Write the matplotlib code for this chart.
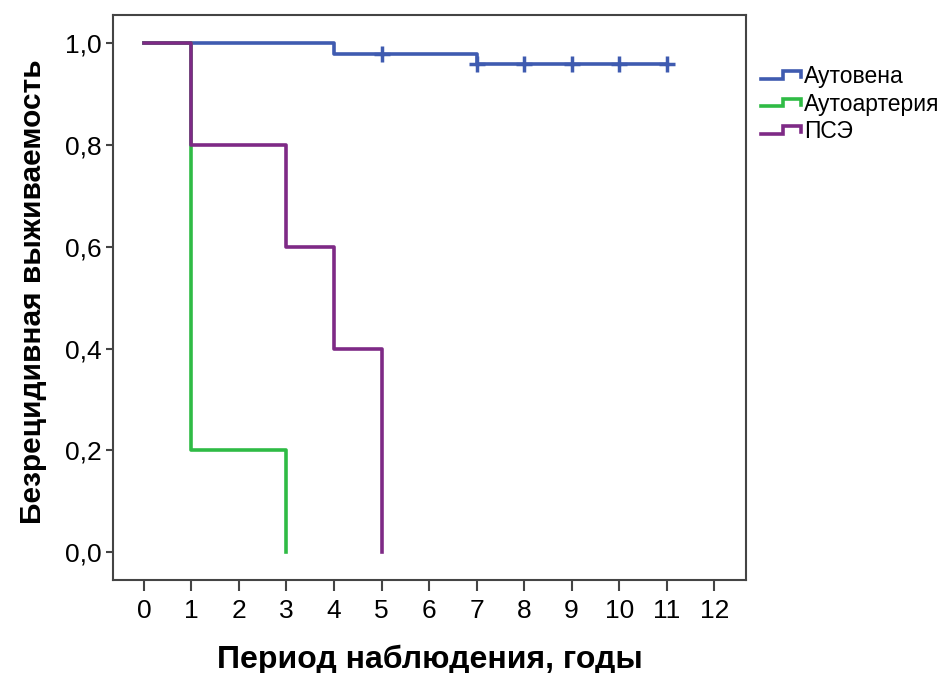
import matplotlib
matplotlib.use("Agg")
import matplotlib.pyplot as plt
from matplotlib.legend_handler import HandlerBase
from matplotlib.lines import Line2D

plt.rcParams['font.family'] = ['Liberation Sans', 'DejaVu Sans']

# Data
groups = ["Аутовена", "Аутоартерия", "ПСЭ"]
colors = ["#3f5bb0", "#2fbb45", "#7e2a86"]
vena_t = [0, 4, 7, 11]
vena_s = [1.0, 0.98, 0.96, 0.96]
arter_t = [0, 1, 3]
arter_s = [1.0, 0.2, 0.0]
pse_t = [0, 1, 3, 4, 5]
pse_s = [1.0, 0.8, 0.6, 0.4, 0.0]
vena_cens_t = [5, 7, 8, 9, 10, 11]
vena_cens_s = [0.98, 0.96, 0.96, 0.96, 0.96, 0.96]
xticks = list(range(0, 13))
yticks = [0.0, 0.2, 0.4, 0.6, 0.8, 1.0]

fig = plt.figure(figsize=(9.47, 6.73), dpi=100)
ax = fig.add_axes([0.1193, 0.1382, 0.7878 - 0.1193, 0.9777 - 0.1382])

lw = 2.6
ax.plot(vena_t, vena_s, drawstyle='steps-post', color=colors[0], lw=lw, zorder=2)
ax.plot(vena_cens_t, vena_cens_s, linestyle='none', marker='+', markersize=12,
        markeredgewidth=2.5, color=colors[0], zorder=2)
ax.plot(arter_t, arter_s, drawstyle='steps-post', color=colors[1], lw=lw, zorder=3)
ax.plot(pse_t, pse_s, drawstyle='steps-post', color=colors[2], lw=lw, zorder=4)

ax.set_xlim(-0.65, 12.67)
ax.set_ylim(-0.055, 1.056)
ax.set_xticks(xticks)
ax.set_xticklabels([str(x) for x in xticks])
ax.set_yticks(yticks)
ax.set_yticklabels([f"{y:.1f}".replace('.', ',') for y in yticks])
ax.tick_params(axis='x', length=8, width=1.5, labelsize=19, pad=6, color='#444444')
ax.tick_params(axis='y', length=5, width=1.5, labelsize=19, pad=3, color='#444444')
for s in ax.spines.values():
    s.set_linewidth(1.5)
    s.set_color('#444444')

ax.set_xlabel("Период наблюдения, годы", fontsize=23, fontweight='bold', labelpad=15)
ax.set_ylabel("Безрецидивная выживаемость", fontsize=21.5, fontweight='bold', labelpad=13)
ax.yaxis.label.set_y(0.51)


class StepHandler(HandlerBase):
    def create_artists(self, legend, orig_handle, xdescent, ydescent,
                       width, height, fontsize, trans):
        lo = -ydescent + 0.28 * height
        hi = -ydescent + 0.75 * height
        x0 = -xdescent
        xm = x0 + 0.55 * width
        x1 = x0 + width
        line = Line2D([x0, xm, xm, x1, x1], [lo, lo, hi, hi, lo + 0.1 * height],
                      color=orig_handle.get_color(), lw=2.6,
                      solid_joinstyle='miter', transform=trans)
        return [line]


handles = [Line2D([], [], color=c) for c in colors]
leg = fig.legend(handles, groups, loc='upper left', bbox_to_anchor=(0.7935, 0.917),
                 frameon=False, fontsize=16.5, handlelength=1.75, handletextpad=0.15,
                 labelspacing=0.2, borderaxespad=0,
                 handler_map={Line2D: StepHandler()})

fig.savefig("out.png", dpi=100)
